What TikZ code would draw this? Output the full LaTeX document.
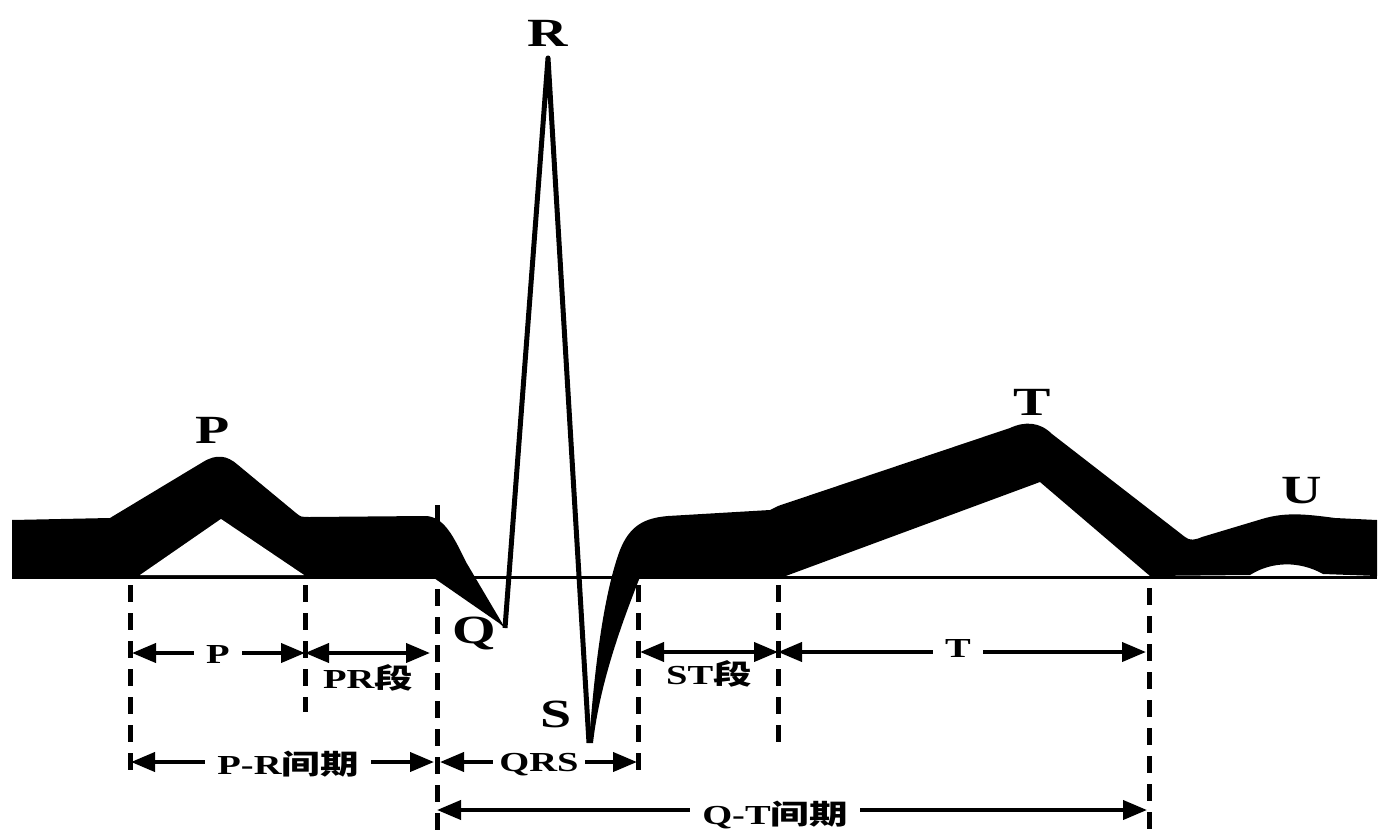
\documentclass[tikz,border=0pt]{standalone}
\usepackage{fontspec}
\setmainfont{Liberation Serif}[FakeStretch=1.4]
\newfontfamily\cjk{Noto Sans CJK SC}[FakeStretch=1.4]
\usetikzlibrary{arrows.meta}

\begin{document}
\begin{tikzpicture}[x=1pt,y=-1pt,
  guide/.style={line width=5pt,dash pattern=on 17pt off 11pt},
  span/.style={line width=4pt,{Triangle[length=24pt,width=19pt]}-{Triangle[length=24pt,width=19pt]}},
  wavename/.style={font=\fontsize{40}{44}\selectfont\bfseries,anchor=base,inner sep=0pt},
  tag/.style={font=\fontsize{27.5}{30}\selectfont\bfseries,anchor=base,inner xsep=12pt,inner ysep=2pt,fill=white}]

  \useasboundingbox (0,0) rectangle (1390,840);

  % Points
  \coordinate (Q) at (505,628);
  \coordinate (R) at (548,58);
  \coordinate (S) at (589,743);

  % Trace: P wave, PR segment, down to Q
  \fill (12,520) -- (110,518) -- (203,462) .. controls (216,454) and (227,455) .. (238,465)
    -- (296,513) .. controls (301,517) .. (310,517) -- (425,516)
    .. controls (445,516) and (455,540) .. (466,562) -- (Q) -- (499,623)
    .. controls (470,603) .. (434,578) -- (12,578) -- cycle;
  \fill[white] (140,575) -- (221,519) -- (304,575) -- cycle;

  % Trace: S, ST segment, T and U waves
  \fill (S) .. controls (595,660) and (605,590) .. (620,550)
    .. controls (630,525) and (645,518) .. (668,516) -- (770,510) -- (778,506)
    -- (1010,428) .. controls (1025,421) and (1040,422) .. (1052,434)
    -- (1185,537) .. controls (1190,541) and (1195,540) .. (1202,537)
    -- (1262,519) .. controls (1285,512) and (1305,514) .. (1335,518) -- (1377,520)
    -- (1377,576) -- (1323,574) .. controls (1300,561) and (1272,561) .. (1250,575)
    -- (1150,576) -- (1040,482) -- (783,577) -- (640,577)
    .. controls (625,615) and (600,680) .. (593,743) -- cycle;

  % QRS spike
  \draw[line width=5pt,line join=round] (Q) -- (R) -- (S);

  % Baseline
  \draw[line width=3pt] (12,577) -- (1377,577);

  % Wave names
  \node[wavename] (nR) at (548,47) {R};
  \node[wavename] (nP) at (213,443) {P};
  \node[wavename] (nT) at (1032,415) {T};
  \node[wavename] (nU) at (1302,503) {U};
  \node[wavename] (nQ) at (474,643) {Q};
  \node[wavename] (nS) at (556,727) {S};

  % Dashed guides
  \foreach \x/\ya/\yb in {130/585/772, 305/585/712, 437/505/840, 638/585/777, 778/585/745, 1149/588/840}
    \draw[guide] (\x,\ya) -- (\x,\yb);

  % Interval ends
  \coordinate (p1) at (132,653);
  \coordinate (p2) at (305,653);
  \coordinate (p3) at (430,653);
  \coordinate (st1) at (640,652);
  \coordinate (st2) at (778,652);
  \coordinate (t2) at (1146,652);
  \coordinate (pr1) at (131,762);
  \coordinate (pr2) at (434,762);
  \coordinate (qrs1) at (440,762);
  \coordinate (qrs2) at (637,762);
  \coordinate (qt1) at (437,810);
  \coordinate (qt2) at (1147,810);

  % Intervals
  \draw[span] (p1) -- (p2);
  \draw[span] (p2) -- (p3);
  \draw[span] (st1) -- (st2);
  \draw[span] (st2) -- (t2);
  \draw[span] (pr1) -- (pr2);
  \draw[span] (qrs1) -- (qrs2);
  \draw[span] (qt1) -- (qt2);

  % Interval labels
  \node[tag] (lP) at (218,663) {P};
  \node[tag,fill=none] (lPR) at (368,688) {PR{\cjk 段}};
  \node[tag,fill=none] (lST) at (709,684) {ST{\cjk 段}};
  \node[tag] (lT) at (958,657) {T};
  \node[tag] (lPRi) at (288,774) {P-R{\cjk 间期}};
  \node[tag,inner xsep=6pt] (lQRS) at (539,771) {QRS};
  \node[tag] (lQT) at (775,824) {Q-T{\cjk 间期}};

\end{tikzpicture}
\end{document}
